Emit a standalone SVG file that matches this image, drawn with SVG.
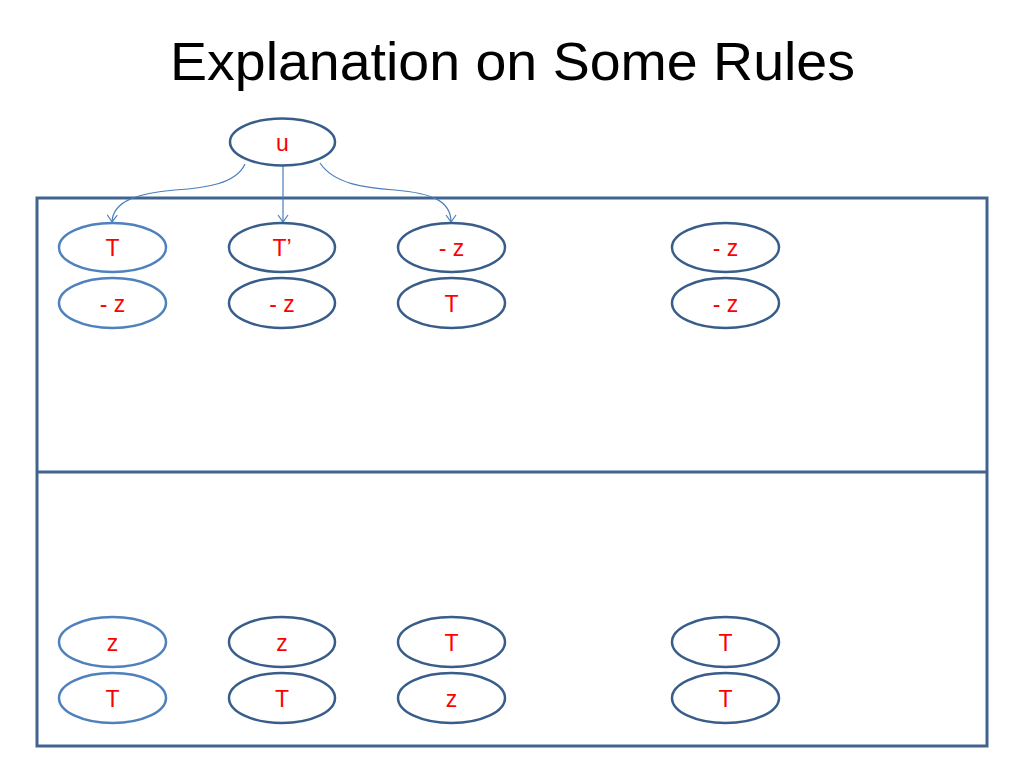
<svg xmlns="http://www.w3.org/2000/svg" width="1024" height="768" viewBox="0 0 1024 768">
<style>
.title{font-family:"Liberation Sans",Arial,sans-serif;font-size:54px;fill:#000}
.lbl{font-family:"Liberation Sans",Arial,sans-serif;font-size:23px;fill:#FF0000;text-anchor:middle}
.n1{fill:#fff;stroke:#4F81BD;stroke-width:2.5}
.n2{fill:#fff;stroke:#385D8A;stroke-width:2.5}
.frame{fill:none;stroke:#41648F;stroke-width:3}
.conn{fill:none;stroke:#4A7EBB;stroke-width:1.2}
</style>
<defs>
<marker id="ah" markerUnits="userSpaceOnUse" markerWidth="14" markerHeight="14" refX="10" refY="7" orient="auto">
<path d="M3,2 L10,7 L3,12" fill="none" stroke="#4A7EBB" stroke-width="1.2"/>
</marker>
</defs>
<rect width="1024" height="768" fill="#fff"/>
<text class="title" x="512.5" y="80" text-anchor="middle" textLength="685" lengthAdjust="spacingAndGlyphs">Explanation on Some Rules</text>
<g id="frame">
<rect class="frame" x="37" y="198" width="950" height="548"/>
<line class="frame" x1="37" y1="472" x2="987" y2="472"/>
</g>
<g id="connectors">
<path class="conn" marker-end="url(#ah)" d="M245,164 C236,184 205,188 175,190 C140,193 113,200 112,222"/>
<path class="conn" marker-end="url(#ah)" d="M283,166 L283,222"/>
<path class="conn" marker-end="url(#ah)" d="M320,163 C334,184 365,188 395,190 C430,193 451,200 451,222"/>
</g>
<g id="u"><ellipse class="n2" cx="282.5" cy="142" rx="52.5" ry="23.5"/><text class="lbl" x="282.5" y="151">u</text></g>
<g id="a1"><ellipse class="n1" cx="112.5" cy="247.5" rx="53.5" ry="24.5"/><text class="lbl" x="112.5" y="256">T</text></g>
<g id="a2"><ellipse class="n1" cx="112.5" cy="303" rx="53.5" ry="25"/><text class="lbl" x="112.5" y="312">- z</text></g>
<g id="b1"><ellipse class="n2" cx="282" cy="247.5" rx="53" ry="24.5"/><text class="lbl" x="282" y="256">T’</text></g>
<g id="b2"><ellipse class="n2" cx="282" cy="303" rx="53" ry="25"/><text class="lbl" x="282" y="312">- z</text></g>
<g id="c1"><ellipse class="n2" cx="451.5" cy="247.5" rx="53.5" ry="24.5"/><text class="lbl" x="451.5" y="256">- z</text></g>
<g id="c2"><ellipse class="n2" cx="451.5" cy="303" rx="53.5" ry="25"/><text class="lbl" x="451.5" y="312">T</text></g>
<g id="d1"><ellipse class="n2" cx="725.5" cy="247.5" rx="53.5" ry="24.5"/><text class="lbl" x="725.5" y="256">- z</text></g>
<g id="d2"><ellipse class="n2" cx="725.5" cy="303" rx="53.5" ry="25"/><text class="lbl" x="725.5" y="312">- z</text></g>
<g id="e1"><ellipse class="n1" cx="112.5" cy="642" rx="53.5" ry="25"/><text class="lbl" x="112.5" y="651">z</text></g>
<g id="e2"><ellipse class="n1" cx="112.5" cy="698" rx="53.5" ry="25"/><text class="lbl" x="112.5" y="707">T</text></g>
<g id="f1"><ellipse class="n2" cx="282" cy="642" rx="53" ry="25"/><text class="lbl" x="282" y="651">z</text></g>
<g id="f2"><ellipse class="n2" cx="282" cy="698" rx="53" ry="25"/><text class="lbl" x="282" y="707">T</text></g>
<g id="g1"><ellipse class="n2" cx="451.5" cy="642" rx="53.5" ry="25"/><text class="lbl" x="451.5" y="651">T</text></g>
<g id="g2"><ellipse class="n2" cx="451.5" cy="698" rx="53.5" ry="25"/><text class="lbl" x="451.5" y="707">z</text></g>
<g id="h1"><ellipse class="n2" cx="725.5" cy="642" rx="53.5" ry="25"/><text class="lbl" x="725.5" y="651">T</text></g>
<g id="h2"><ellipse class="n2" cx="725.5" cy="698" rx="53.5" ry="25"/><text class="lbl" x="725.5" y="707">T</text></g>
</svg>
